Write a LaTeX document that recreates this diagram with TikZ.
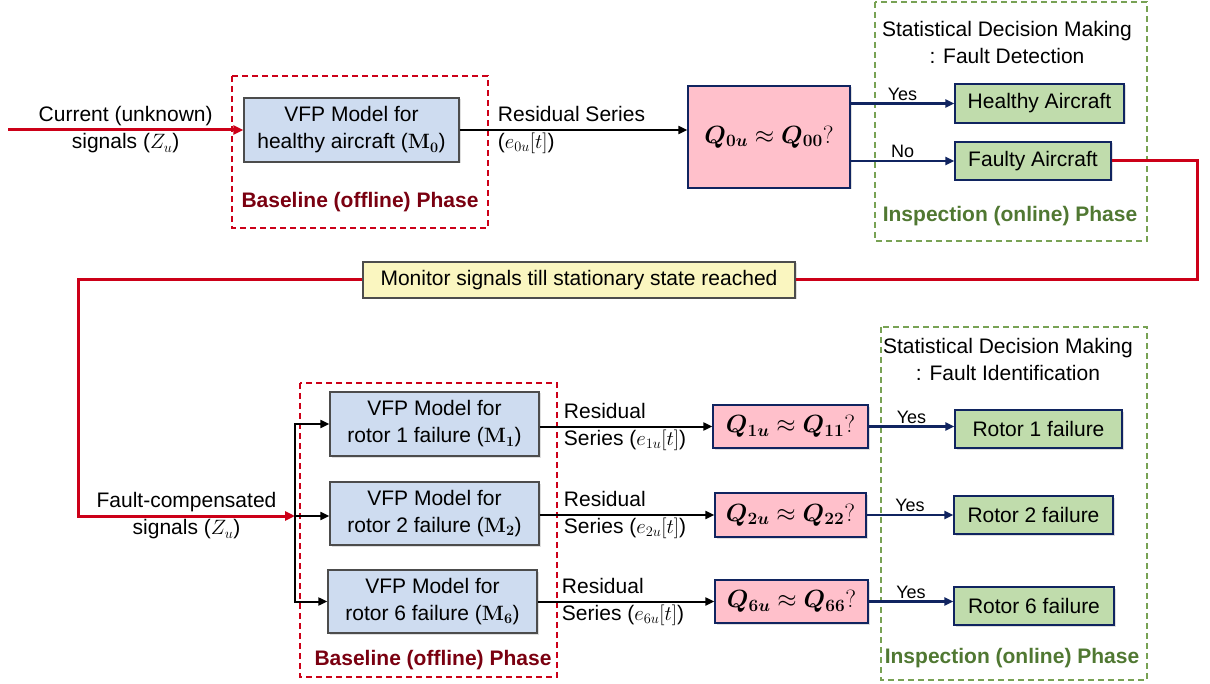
\documentclass[tikz,border=0pt]{standalone}
\usepackage{amsmath,bm}
\usepackage[no-math]{fontspec}
\setmainfont{Liberation Sans}
\usetikzlibrary{arrows.meta,shadows}

\definecolor{modelblue}{RGB}{206,220,240}
\definecolor{testpink}{RGB}{255,192,203}
\definecolor{resgreen}{RGB}{192,220,172}
\definecolor{notepaper}{RGB}{250,246,192}
\definecolor{navyline}{RGB}{16,36,96}
\definecolor{faultred}{RGB}{204,0,24}
\definecolor{offlinered}{RGB}{122,0,16}
\definecolor{onlinegreen}{RGB}{80,120,50}
\definecolor{greendash}{RGB}{120,162,84}

\tikzset{
  txt/.style={text=black, font=\fontsize{21}{27}\selectfont},
  boxshadow/.style={drop shadow={shadow xshift=1.5pt, shadow yshift=-1.5pt, opacity=0.25}},
  model/.style={txt, draw=black!70, line width=1.3pt, fill=modelblue, align=center, inner sep=0pt, boxshadow},
  test/.style={draw=navyline, line width=1.3pt, fill=testpink, inner sep=0pt, boxshadow,
    font=\fontsize{25}{30}\selectfont},
  result/.style={txt, draw=navyline, line width=1.3pt, fill=resgreen, inner sep=0pt, boxshadow},
  note/.style={txt, draw=black!70, line width=1.3pt, fill=notepaper, inner sep=0pt, boxshadow},
  offline/.style={draw=faultred, line width=1.3pt, dash pattern=on 6pt off 4pt},
  online/.style={draw=greendash, line width=1.3pt, dash pattern=on 6pt off 4pt},
  phaselabel/.style={font=\fontsize{21}{25}\selectfont\bfseries},
  flow/.style={black, line width=2pt, -{Triangle[length=9pt, width=8pt]}},
  decide/.style={navyline, line width=2.4pt, -{Triangle[length=9pt, width=8pt]}},
  faultline/.style={faultred, line width=3pt},
  answer/.style={text=black, font=\fontsize{18}{21}\selectfont, above, inner sep=2pt}
}

\begin{document}
\begin{tikzpicture}[x=1pt, y=-1pt]
\useasboundingbox (0,0) rectangle (1210,684);

% Phase frames
\draw[offline] (232,76) rectangle (488,228);
\draw[offline] (300,383) rectangle (557,677);
\draw[online] (875,2) rectangle (1147,241);
\draw[online] (881,327) rectangle (1147,680);

\node[phaselabel, text=offlinered] (base1) at (360,202) {Baseline (offline) Phase};
\node[phaselabel, text=offlinered] (base2) at (433,660) {Baseline (offline) Phase};
\node[phaselabel, text=onlinegreen] (insp1) at (1010,216) {Inspection (online) Phase};
\node[phaselabel, text=onlinegreen] (insp2) at (1012,658) {Inspection (online) Phase};

\node[txt, align=center] (sdm1) at (1007,42) {Statistical Decision Making\\: Fault Detection};
\node[txt, align=center] (sdm2) at (1008,359) {Statistical Decision Making\\: Fault Identification};

% Fault detection row
\node[model, minimum width=215pt, minimum height=64pt] (m0) at (351.5,130)
  {VFP Model for\\healthy aircraft ($\mathbf{M}_{\mathbf{0}}$)};
\node[test, minimum width=162pt, minimum height=102pt] (q0) at (769,137)
  {$\bm{Q_{0u}} \approx \bm{Q_{00}}?$};
\node[result, minimum width=169pt, minimum height=39pt] (healthy) at (1039.5,103.5) {Healthy Aircraft};
\node[result, minimum width=156pt, minimum height=38pt] (faulty) at (1033,161) {Faulty Aircraft};

\coordinate (cur) at (8,130);
\draw[faultline, -{Triangle[length=10pt, width=9pt]}] (cur) -- node[txt, align=center] {Current (unknown)\\signals ($Z_u$)} (m0.west);
\draw[flow] (m0.east) -- node[txt, align=left, anchor=west, pos=0, xshift=34pt] {Residual Series\\($e_{0u}[t]$)} (q0.west |- m0.east);
\draw[decide] (q0.east |- healthy.west) -- node[answer] {Yes} (healthy.west);
\draw[decide] (q0.east |- faulty.west) -- node[answer] {No} (faulty.west);

% Monitoring loop
\node[note, minimum width=432pt, minimum height=36pt] (monitor) at (579,280)
  {Monitor signals till stationary state reached};
\coordinate (turn) at (1197,280);
\coordinate (back) at (78,280);
\coordinate (split) at (295,516);
\draw[faultline] (faulty.east) -| (turn) -- (monitor.east);
\draw[faultline, -{Triangle[length=10pt, width=9pt]}] (monitor.west) -- (back) |-
  node[pos=0.75, txt, align=center] {Fault-compensated\\signals ($Z_u$)} (split);

% Fault identification rows
\node[model, minimum width=209pt, minimum height=64pt] (m1) at (434.5,424)
  {VFP Model for\\rotor 1 failure ($\mathbf{M}_{\mathbf{1}}$)};
\node[model, minimum width=209pt, minimum height=63pt] (m2) at (434.5,513.5)
  {VFP Model for\\rotor 2 failure ($\mathbf{M}_{\mathbf{2}}$)};
\node[model, minimum width=209pt, minimum height=63pt] (m6) at (432.5,601.5)
  {VFP Model for\\rotor 6 failure ($\mathbf{M}_{\mathbf{6}}$)};

\node[test, minimum width=155pt, minimum height=43pt] (q1) at (790.5,426.5) {$\bm{Q_{1u}} \approx \bm{Q_{11}}?$};
\node[test, minimum width=151pt, minimum height=44pt] (q2) at (790.5,515) {$\bm{Q_{2u}} \approx \bm{Q_{22}}?$};
\node[test, minimum width=153pt, minimum height=43pt] (q6) at (791.5,601.5) {$\bm{Q_{6u}} \approx \bm{Q_{66}}?$};

\node[result, minimum width=167pt, minimum height=38pt] (r1) at (1038.5,429) {Rotor 1 failure};
\node[result, minimum width=159pt, minimum height=38pt] (r2) at (1033.5,515) {Rotor 2 failure};
\node[result, minimum width=160pt, minimum height=38pt] (r6) at (1034,606) {Rotor 6 failure};

\draw[black, line width=2pt] (split |- m1.west) -- (split |- m6.west);
\draw[flow] (split) |- (m1.west);
\draw[flow] (split) -- (split -| m2.west);
\draw[flow] (split) |- (m6.west);

\foreach \m/\q/\i in {m1/q1/1, m2/q2/2, m6/q6/6}{
  \draw[flow] (\m.east |- \q.west) -- node[txt, align=left, anchor=west, pos=0, xshift=20pt]
    {Residual\\Series ($e_{\i u}[t]$)} (\q.west);
}
\draw[decide] (q1.east) -- node[answer] {Yes} (q1.east -| r1.west);
\draw[decide] (q2.east) -- node[answer] {Yes} (q2.east -| r2.west);
\draw[decide] (q6.east) -- node[answer] {Yes} (q6.east -| r6.west);
\end{tikzpicture}
\end{document}
